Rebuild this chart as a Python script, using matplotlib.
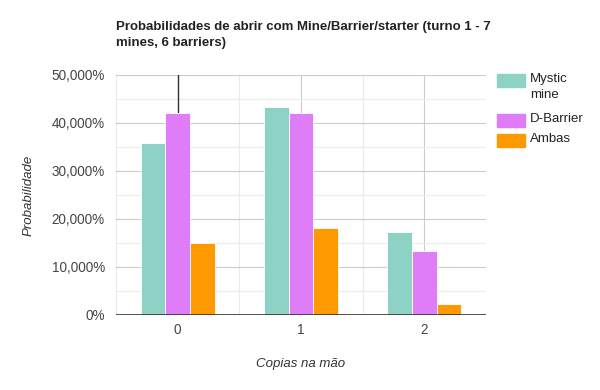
import matplotlib.pyplot as plt
import numpy as np
from matplotlib.patches import Rectangle
from matplotlib.ticker import MultipleLocator, FuncFormatter

plt.rcParams['font.family'] = ['Liberation Sans', 'DejaVu Sans']

copias = [0, 1, 2]
series_names = ['Mystic\nmine', 'D-Barrier', 'Ambas']
mystic_mine = [35.8, 43.3, 17.3]
d_barrier = [42.1, 42.1, 13.3]
ambas = [15.0, 18.2, 2.3]
colors = ['#8ed2c6', '#df7cf8', '#ff9900']

W, H = 600, 390
fig = plt.figure(figsize=(6, 3.9), dpi=100)
ax = fig.add_axes([116 / W, 75 / H, 370 / W, 240 / H])

x = np.array(copias, dtype=float)
width = 0.2
for i, (vals, name, col) in enumerate(zip([mystic_mine, d_barrier, ambas],
                                          series_names, colors)):
    ax.bar(x + (i - 1) * width, vals, width, color=col, label=name,
           edgecolor='white', linewidth=0.6, zorder=3)

ax.set_xlim(-0.5, 2.5)
ax.set_ylim(0, 50)
ax.xaxis.set_major_locator(MultipleLocator(1))
ax.xaxis.set_minor_locator(MultipleLocator(0.5))
ax.yaxis.set_major_locator(MultipleLocator(10))
ax.yaxis.set_minor_locator(MultipleLocator(5))
ax.yaxis.set_major_formatter(
    FuncFormatter(lambda v, p: '0%' if v == 0 else f'{v:.3f}%'.replace('.', ',')))

ax.set_axisbelow(True)
ax.grid(True, which='major', color='#cccccc', linewidth=0.8)
ax.grid(True, which='minor', color='#ebebeb', linewidth=0.8)
ax.axvline(0, color='#333333', linewidth=1, zorder=2.8)
ax.axhline(0, color='#333333', linewidth=1.2, zorder=4)

for s in ax.spines.values():
    s.set_visible(False)
ax.tick_params(which='both', length=0)
ax.tick_params(axis='both', labelsize=9.75, colors='#444444', pad=8)
ax.tick_params(axis='x', pad=6)

ax.set_xlabel('Copias na mão', fontsize=9.5, style='italic', color='#333333', labelpad=15)
ax.set_ylabel('Probabilidade', fontsize=9.5, style='italic', color='#333333', labelpad=12)

fig.text(116 / W, 1 - 21 / H,
         'Probabilidades de abrir com Mine/Barrier/starter (turno 1 - 7\nmines, 6 barriers)',
         fontsize=9.5, fontweight='bold', color='#222222', va='top', ha='left',
         linespacing=1.45)

# legend drawn by hand so that wrapped labels line up like the reference
y_c = 80
for name, col in zip(series_names, colors):
    fig.patches.append(Rectangle((497 / W, 1 - (y_c + 6.5) / H), 28 / W, 13 / H,
                                 color=col, transform=fig.transFigure))
    fig.text(530 / W, 1 - (y_c - 7) / H, name, fontsize=9.5, color='#222222',
             va='top', ha='left', linespacing=1.45)
    y_c += 20 * (name.count('\n') + 1)

fig.savefig('out.png', dpi=100)
